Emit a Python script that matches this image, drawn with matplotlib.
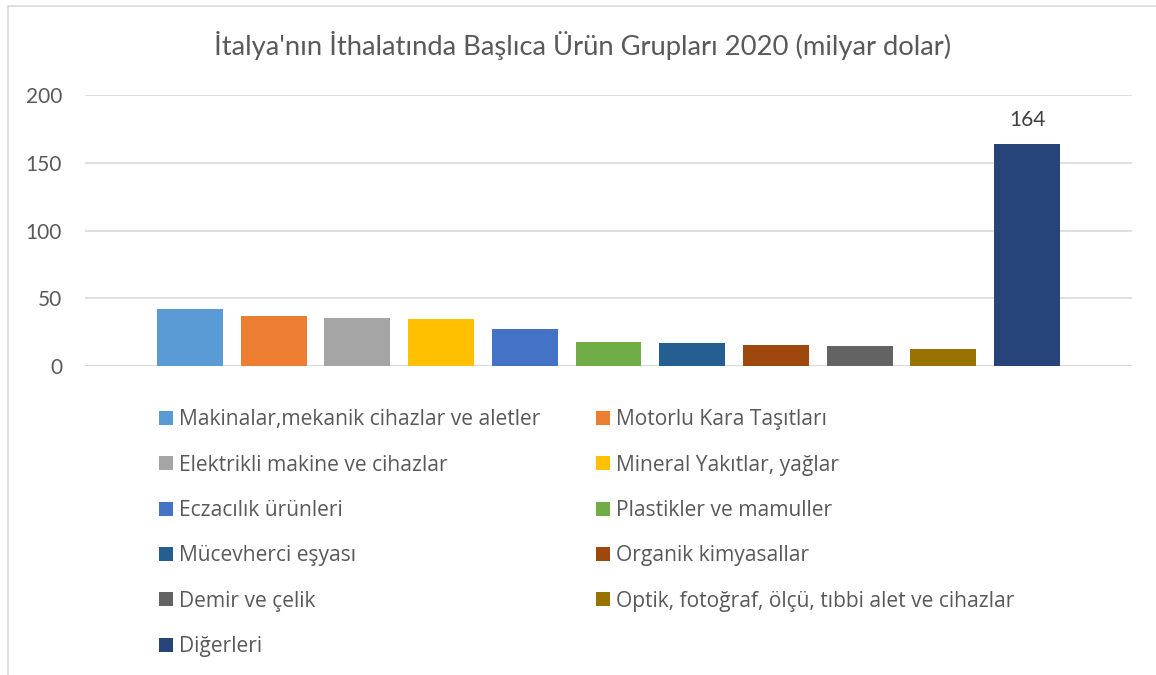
import matplotlib
matplotlib.use("Agg")
import matplotlib.pyplot as plt
from matplotlib.patches import Rectangle

# Italy imports 2020, billion USD
groups = [
    "Makinalar,mekanik cihazlar ve aletler",
    "Motorlu Kara Taşıtları",
    "Elektrikli makine ve cihazlar",
    "Mineral Yakıtlar, yağlar",
    "Eczacılık ürünleri",
    "Plastikler ve mamuller",
    "Mücevherci eşyası",
    "Organik kimyasallar",
    "Demir ve çelik",
    "Optik, fotoğraf, ölçü, tıbbi alet ve cihazlar",
    "Diğerleri",
]
values = [42.1, 36.9, 35.5, 34.7, 27.3, 17.7, 17.0, 15.5, 14.8, 12.6, 164]
colors = ["#5B9BD5", "#ED7D31", "#A5A5A5", "#FFC000", "#4472C4", "#70AD47",
          "#255E91", "#9E480E", "#636363", "#997300", "#264478"]
yticks = [0, 50, 100, 150, 200]

W, H = 1156, 675
fig = plt.figure(figsize=(W / 100, H / 100), dpi=100)
plt.rcParams["font.family"] = ["Open Sans", "DejaVu Sans"]
txt = "#595959"

# chart border (only top/left visible in the crop)
fig.patches.append(Rectangle((8 / W, -0.1), 1.2, 1 - 6 / H + 0.1,
                             transform=fig.transFigure, fill=False,
                             edgecolor="#D9D9D9", lw=1.2))

ax = fig.add_axes([85 / W, 1 - 366 / H, 1047 / W, 271 / H])
x = list(range(len(values)))
bars = ax.bar(x, values, width=0.788, color=colors, zorder=3)
ax.set_xlim(-1.253, len(values) - 1 + 1.253)
ax.set_ylim(0, 200)
ax.set_yticks(yticks)
ax.set_xticks([])
ax.grid(axis="y", color="#D9D9D9", lw=1.2, zorder=0)
for s in ax.spines.values():
    s.set_visible(False)
ax.axhline(0, color="#D9D9D9", lw=1.2, zorder=2)
ax.tick_params(axis="y", length=0, pad=16.5, labelsize=15, labelcolor=txt)
for lab in ax.get_yticklabels():
    lab.set_family(["Lato", "DejaVu Sans"])

ax.annotate(f"{values[-1]:g}", (x[-1], values[-1]), xytext=(0, 10),
            textcoords="offset points", ha="center", va="bottom",
            fontsize=15, color="#404040", family=["Lato", "DejaVu Sans"])

fig.text(583 / W, 1 - 45 / H,
         "İtalya'nın İthalatında Başlıca Ürün Grupları 2020 (milyar dolar)",
         ha="center", va="center", fontsize=19.7, color=txt,
         family=["Lato", "DejaVu Sans"])

# legend filled row by row (matplotlib fills columns first)
order = list(range(0, len(groups), 2)) + list(range(1, len(groups), 2))
leg = ax.legend([bars[i] for i in order], [groups[i] for i in order],
                ncol=2, loc="upper left", bbox_to_anchor=(151 / W, 1 - 401 / H),
                bbox_transform=fig.transFigure, frameon=False, fontsize=15.1,
                handlelength=0.66, handleheight=0.66, handletextpad=0.28,
                labelspacing=1.16, columnspacing=2.65, borderaxespad=0)
for t in leg.get_texts():
    t.set_color(txt)

fig.savefig("out.png", dpi=100)
